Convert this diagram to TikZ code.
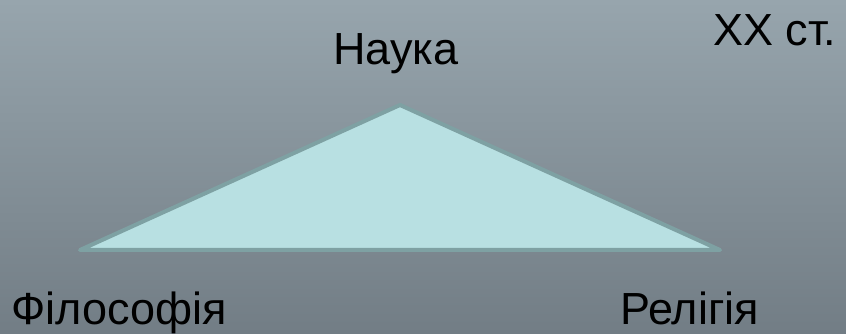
\documentclass[tikz,border=0pt]{standalone}
\usepackage{fontspec}
\setmainfont{Liberation Sans}
\definecolor{bgtop}{RGB}{151,165,173}
\definecolor{bgbottom}{RGB}{114,125,133}
\definecolor{trifill}{RGB}{184,224,226}
\definecolor{triline}{RGB}{126,161,163}
\begin{document}
\begin{tikzpicture}[x=1pt,y=1pt]
    \tikzstyle{nodeT}=[inner sep=0pt, font=\fontsize{45}{54}\selectfont, text=black]
    \shade[top color=bgtop, bottom color=bgbottom] (0,0) rectangle (846,334);
    \useasboundingbox (0,0) rectangle (846,334);
    \coordinate (top) at (400,229);
    \coordinate (left) at (80,84);
    \coordinate (right) at (720,84);
    \draw[fill=trifill, draw=triline, line width=4pt, line join=round] (top) -- (right) -- (left) -- cycle;
    \node[nodeT, anchor=base] (science) at (396,269) {Наука};
    \node[nodeT, anchor=base west] (century) at (713,288) {XX ст.};
    \node[nodeT, anchor=base west] (philosophy) at (11,9) {Філософія};
    \node[nodeT, anchor=base west] (religion) at (620,9) {Релігія};
  \end{tikzpicture}
\end{document}
